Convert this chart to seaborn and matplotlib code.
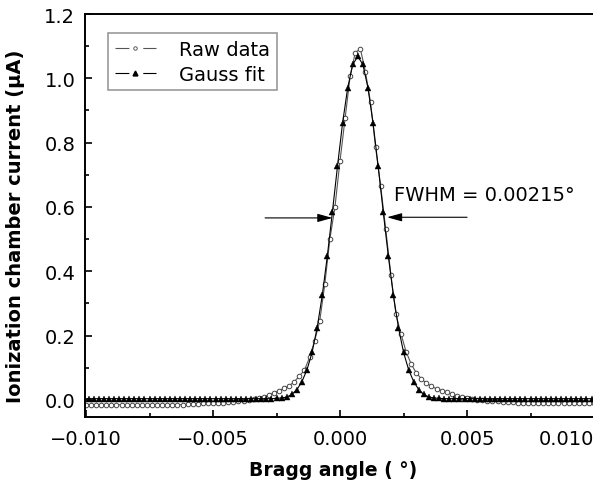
import numpy as np
import matplotlib
matplotlib.use("Agg")
import matplotlib.pyplot as plt
from matplotlib.lines import Line2D
import seaborn as sns

# raw data sampled on even 0.0002 deg grid, fit on odd grid
raw_angle = np.round(np.arange(-0.0100, 0.01001, 0.0002), 5)
fit_angle = np.round(np.arange(-0.0101, 0.01011, 0.0002), 5)

raw_current = (
    [-0.015] * 20
    + [-0.014, -0.013, -0.012, -0.011, -0.010, -0.010, -0.009, -0.008, -0.007, -0.005,
       -0.004, -0.002, 0.000, 0.003, 0.006, 0.010, 0.016, 0.022, 0.029, 0.036,
       0.044, 0.057, 0.074, 0.093, 0.132, 0.184, 0.245, 0.360, 0.500, 0.600,
       0.744, 0.876, 1.008, 1.080, 1.092, 1.020, 0.925, 0.785, 0.665, 0.530,
       0.390, 0.267, 0.205, 0.150, 0.112, 0.084, 0.066, 0.052, 0.042, 0.035,
       0.029, 0.024, 0.019, 0.013, 0.008, 0.005, 0.003, 0.001, -0.001, -0.002,
       -0.003, -0.004, -0.005, -0.006, -0.007, -0.008]
    + [-0.009] * 15
)

fit_current = (
    [0.004] * 38
    + [0.005, 0.006, 0.009, 0.017, 0.032, 0.057, 0.094, 0.148, 0.225, 0.325,
       0.448, 0.585, 0.727, 0.861, 0.970, 1.043, 1.068, 1.043, 0.970, 0.861,
       0.727, 0.585, 0.448, 0.325, 0.225, 0.148, 0.094, 0.057, 0.032, 0.017,
       0.009, 0.006, 0.005]
    + [0.004] * 31
)

series_labels = ["Raw data", "Gauss fit"]
fwhm_text = "FWHM = 0.00215°"
x_ticks = [-0.010, -0.005, 0.000, 0.005, 0.010]
x_ticklabels = ["\u22120.010", "\u22120.005", "0.000", "0.005", "0.010"]
y_ticks = [0.0, 0.2, 0.4, 0.6, 0.8, 1.0, 1.2]

sns.set_style("ticks")
plt.rcParams["font.family"] = ["DejaVu Sans"]
plt.rcParams["lines.scale_dashes"] = False
for key in ["text.color", "axes.labelcolor", "xtick.color", "ytick.color"]:
    plt.rcParams[key] = "black"

fig = plt.figure(figsize=(5.93, 4.81), dpi=100)
ax = fig.add_axes([85 / 593, 63 / 481, 511.6 / 593, 403 / 481])

sns.lineplot(x=raw_angle, y=raw_current, ax=ax, color="#555555", lw=0.8,
             marker="o", markersize=3.3, markerfacecolor="white",
             markeredgecolor="#444444", markeredgewidth=0.7,
             estimator=None, sort=False)
sns.lineplot(x=fit_angle, y=fit_current, ax=ax, color="black", lw=0.8,
             marker="^", markersize=4.3, markerfacecolor="black",
             markeredgecolor="black", markeredgewidth=0.3,
             estimator=None, sort=False)

ax.set_xlim(-0.01004, 0.0101)
ax.set_ylim(-0.053, 1.2)

ax.set_xticks(x_ticks)
ax.set_xticklabels(x_ticklabels)
ax.set_xticks([-0.0075, -0.0025, 0.0025, 0.0075], minor=True)
ax.set_yticks(y_ticks)
ax.set_yticklabels([f"{v:.1f}" for v in y_ticks])
ax.set_yticks([0.1, 0.3, 0.5, 0.7, 0.9, 1.1], minor=True)
ax.tick_params(which="both", direction="in", labelsize=14, width=1.2)
ax.tick_params(which="major", length=5)
ax.tick_params(which="minor", length=3)
ax.tick_params(axis="x", pad=9)
ax.tick_params(axis="y", pad=7)
labels = ax.get_xticklabels()
labels[-1].set_ha("right")

for side in ["left", "bottom", "top"]:
    ax.spines[side].set_linewidth(1.4)
    ax.spines[side].set_color("black")
ax.spines["right"].set_visible(False)

ax.set_xlabel("Bragg angle ( °)", fontsize=13.5, fontweight="bold")
ax.set_ylabel("Ionization chamber current (μA)", fontsize=14, fontweight="bold")
ax.xaxis.set_label_coords(0.485, -0.106)
ax.yaxis.set_label_coords(-0.118, 0.475)

# FWHM arrows and label
arrow = dict(arrowstyle="-|>,head_length=0.9,head_width=0.25", color="black",
             lw=0.8, shrinkA=0, shrinkB=0, mutation_scale=10)
ax.annotate("", xy=(-0.0003, 0.566), xytext=(-0.00295, 0.566), arrowprops=arrow)
ax.annotate("", xy=(0.00185, 0.568), xytext=(0.0050, 0.568), arrowprops=arrow)
ax.text(0.00213, 0.64, fwhm_text, fontsize=14, va="center", ha="left")

handles = [
    Line2D([], [], color="#555555", lw=0.8, dashes=(10, 10), marker="o",
           markersize=2.5, markerfacecolor="white", markeredgecolor="#444444",
           markeredgewidth=0.6),
    Line2D([], [], color="black", lw=0.8, dashes=(10, 10), marker="^",
           markersize=3.5, markerfacecolor="black", markeredgecolor="black"),
]
leg = ax.legend(handles, series_labels, loc="upper left",
                bbox_to_anchor=(0.045, 0.953), borderaxespad=0,
                fontsize=14, numpoints=1, handlelength=2.1, handletextpad=1.2,
                labelspacing=0.3, borderpad=0.35, fancybox=False,
                frameon=True, framealpha=1, edgecolor="#999999")
leg.get_frame().set_linewidth(1.2)

fig.savefig("out.png", dpi=100)
